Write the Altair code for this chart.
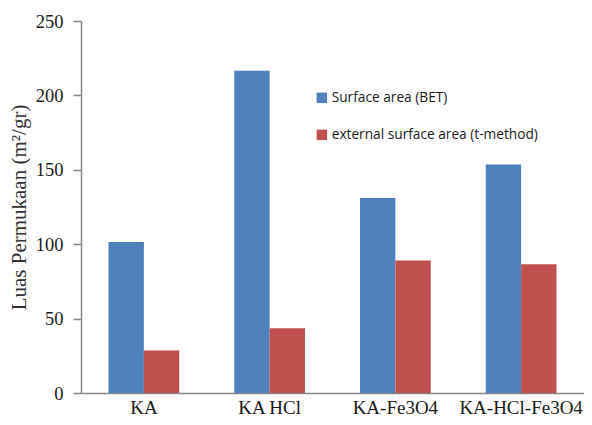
import altair as alt
import pandas as pd

categories = ["KA", "KA HCl", "KA-Fe3O4", "KA-HCl-Fe3O4"]
series = ["Surface area (BET)", "external surface area (t-method)"]
bet = [101.5, 216.5, 131, 153.5]
ext = [28.5, 43.5, 89, 86.5]
colors = ["#4F81BD", "#C0504D"]

rows = []
for c, b, e in zip(categories, bet, ext):
    rows.append({"cat": c, "series": series[0], "value": b})
    rows.append({"cat": c, "series": series[1], "value": e})
df = pd.DataFrame(rows)

chart = alt.Chart(df).mark_bar().encode(
    x=alt.X("cat:N", sort=categories, title=None,
            scale=alt.Scale(paddingInner=0.4375, paddingOuter=0.21875),
            axis=alt.Axis(labelAngle=0, labelFont="Liberation Serif", labelFontSize=19,
                          labelColor="#1a1a1a", labelPadding=5, ticks=False,
                          domainColor="#868686", domainWidth=1.5)),
    xOffset=alt.XOffset("series:N", sort=series),
    y=alt.Y("value:Q", title="Luas Permukaan (m²/gr)",
            scale=alt.Scale(domain=[0, 250], nice=False),
            axis=alt.Axis(values=[0, 50, 100, 150, 200, 250], grid=False,
                          labelFont="Liberation Serif", labelFontSize=18.5, labelColor="#1a1a1a",
                          labelPadding=10, tickSize=8, tickColor="#868686", tickWidth=1.5,
                          domainColor="#868686", domainWidth=1.5,
                          titleFont="Liberation Serif", titleFontSize=21, titleFontWeight="normal",
                          titleColor="#333333", titlePadding=6)),
    color=alt.Color("series:N", sort=series,
                    scale=alt.Scale(domain=series, range=colors),
                    legend=alt.Legend(title=None, orient="none", legendX=234, legendY=70,
                                      symbolType="square", symbolSize=110, symbolStrokeWidth=0,
                                      labelFont="Open Sans", labelFontSize=13.7, labelColor="#1a1a1a",
                                      rowPadding=22, labelLimit=400, labelOffset=3)),
).properties(
    width=503, height=372,
    autosize=alt.AutoSizeParams(type="none"),
    padding={"left": 73, "top": 13, "right": 0, "bottom": 24},
).configure_view(stroke=None)

chart.save("out.html", embed_options={"renderer": "svg", "actions": False})
